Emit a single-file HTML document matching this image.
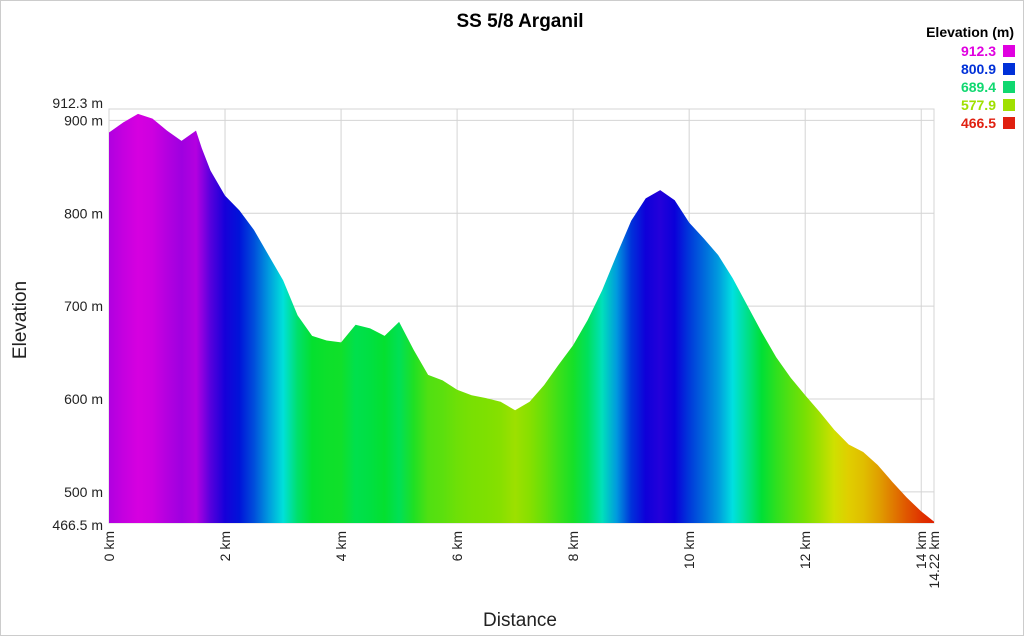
<!DOCTYPE html>
<html><head><meta charset="utf-8"><style>
body{margin:0;background:#fff;font-family:"Liberation Sans",sans-serif}
svg{display:block}
</style></head><body>
<svg id="c" width="1024" height="636">
<rect x="0.5" y="0.5" width="1023" height="635" fill="#fff" stroke="#ccc"/>
<text x="520" y="27" text-anchor="middle" font-size="19" font-weight="bold" fill="#000">SS 5/8 Arganil</text>
<g id="grid"></g>
<defs><linearGradient id="grad" gradientUnits="userSpaceOnUse" x1="109" y1="0" x2="934" y2="0"></linearGradient></defs>
<path id="area" fill="url(#grad)"/>
<g id="axes"></g>
<text x="26" y="320" transform="rotate(-90 26 320)" text-anchor="middle" font-size="19" fill="#222">Elevation</text>
<text x="520" y="626" text-anchor="middle" font-size="19" fill="#222">Distance</text>
<g id="legend"></g>
</svg>
<script>
const dist=[0,0.25,0.5,0.75,1.0,1.25,1.5,1.6,1.75,2.0,2.25,2.5,2.75,3.0,3.25,3.5,3.75,4.0,4.25,4.5,4.75,5.0,5.25,5.5,5.75,6.0,6.25,6.5,6.75,7.0,7.25,7.5,7.75,8.0,8.25,8.5,8.75,9.0,9.25,9.5,9.75,10.0,10.25,10.5,10.75,11.0,11.25,11.5,11.75,12.0,12.25,12.5,12.75,13.0,13.25,13.5,13.75,14.0,14.22];
const elev=[887,898,907,902,889,878,889,870,846,819,803,782,755,728,690,668,663,661,680,676,668,683,653,626,620,610,604,601,597,588,597,615,637,658,685,717,755,792,816,825,814,790,773,755,730,701,672,645,623,604,586,567,551,543,529,511,494,479,468];
const xTicks=[0,2,4,6,8,10,12,14];
const yTicks=[500,600,700,800,900];
const legendVals=["912.3","800.9","689.4","577.9","466.5"];
const legendCols=["#e000e0","#0030d8","#10d870","#a0e000","#e02010"];
const xMin=0,xMax=14.22,yMin=466.5,yMax=912.3;
const X0=109,X1=934,Y0=523,Y1=109;
const sx=d=>X0+(d-xMin)/(xMax-xMin)*(X1-X0);
const sy=e=>Y0-(e-yMin)/(yMax-yMin)*(Y0-Y1);
const stops=[[470,[224,32,0]],[520,[224,144,0]],[560,[224,224,0]],[600,[128,224,0]],[670,[0,224,48]],[730,[0,224,224]],[810,[0,0,216]],[870,[144,0,224]],[912.3,[224,0,224]]];
function col(e){if(e<=stops[0][0])return stops[0][1];for(let i=1;i<stops.length;i++){if(e<=stops[i][0]){const a=stops[i-1],b=stops[i],t=(e-a[0])/(b[0]-a[0]);return a[1].map((v,k)=>Math.round(v+(b[1][k]-v)*t));}}return stops[stops.length-1][1];}
const NS='http://www.w3.org/2000/svg';
function mk(t,a,p){const el=document.createElementNS(NS,t);for(const k in a)el.setAttribute(k,a[k]);p.appendChild(el);return el;}
const grid=document.getElementById('grid'),axes=document.getElementById('axes');
mk('rect',{x:X0,y:Y1,width:X1-X0,height:Y0-Y1,fill:'none',stroke:'#d4d4d4'},grid);
xTicks.forEach(t=>{const l=mk('line',{x1:sx(t),x2:sx(t),y1:Y1,y2:Y0,stroke:'#d4d4d4'},grid);


const x=sx(t)+5;const tx=mk('text',{x:x,y:Y0+8,transform:`rotate(-90 ${x} ${Y0+8})`,'text-anchor':'end','font-size':14,fill:'#222'},axes);tx.textContent=t+' km';

});
{const x=sx(xMax)+5;const tx=mk('text',{x:x,y:Y0+8,transform:`rotate(-90 ${x} ${Y0+8})`,'text-anchor':'end','font-size':14,fill:'#222'},axes);tx.textContent=xMax+' km';

}
yTicks.forEach(t=>{const l=mk('line',{x1:X0,x2:X1,y1:sy(t),y2:sy(t),stroke:'#d4d4d4'},grid);


const tx=mk('text',{x:X0-6,y:sy(t)+5,'text-anchor':'end','font-size':14,fill:'#222'},axes);tx.textContent=t+' m';

});
[[yMax,Y1-1],[yMin,Y0+7]].forEach(([v,y])=>{const tx=mk('text',{x:X0-6,y:y,'text-anchor':'end','font-size':14,fill:'#222'},axes);tx.textContent=v+' m';

});
const g=document.getElementById('grad');
dist.forEach((d,i)=>{const c=col(elev[i]);mk('stop',{offset:((sx(d)-X0)/(X1-X0)).toFixed(4),'stop-color':`rgb(${c.join(',')})`},g);});
let p=`M${sx(dist[0])},${Y0}`;dist.forEach((d,i)=>p+=` L${sx(d).toFixed(1)},${sy(elev[i]).toFixed(1)}`);p+=` L${sx(dist[dist.length-1])},${Y0} Z`;
document.getElementById('area').setAttribute('d',p);
const lg=document.getElementById('legend');
const lt=mk('text',{x:1014,y:37,'text-anchor':'end','font-size':14,'font-weight':'bold',fill:'#000'},lg);lt.textContent='Elevation (m)';


legendVals.forEach((v,i)=>{const y=56+i*18;const r=mk('rect',{x:1003,y:y-11,width:12,height:12,fill:legendCols[i]},lg);


const t=mk('text',{x:996,y:y,'text-anchor':'end','font-size':14,'font-weight':'bold',fill:legendCols[i]},lg);t.textContent=v;

});
</script>
</body></html>
